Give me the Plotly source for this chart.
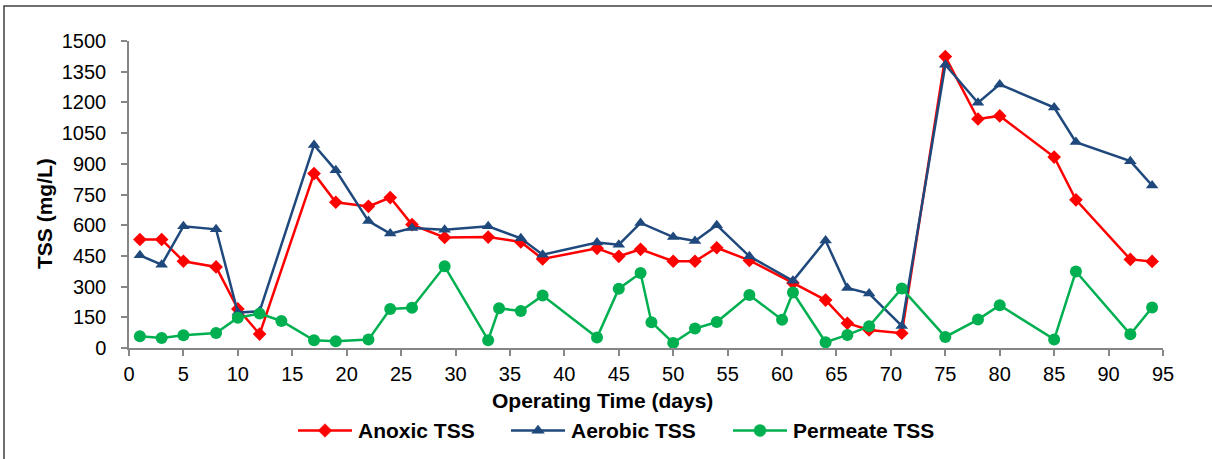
import plotly.graph_objects as go

# Sampling days for the reactor TSS series
days_reactor = [1, 3, 5, 8, 10, 12, 17, 19, 22, 24, 26, 29, 33, 36, 38, 43, 45, 47,
                50, 52, 54, 57, 61, 64, 66, 68, 71, 75, 78, 80, 85, 87, 92, 94]
anoxic_tss = [530, 530, 424, 396, 191, 68, 852, 712, 692, 735, 603, 540, 542, 518,
              435, 487, 448, 482, 424, 424, 490, 428, 318, 234, 121, 88, 72, 1424,
              1119, 1134, 933, 724, 433, 423]
aerobic_tss = [453, 407, 595, 580, 173, 179, 992, 868, 620, 559, 586, 578, 595, 536,
               456, 515, 505, 611, 542, 523, 600, 448, 328, 525, 293, 266, 108, 1384,
               1198, 1288, 1175, 1006, 913, 794]

# Sampling days for the permeate series
days_permeate = [1, 3, 5, 8, 10, 12, 14, 17, 19, 22, 24, 26, 29, 33, 34, 36, 38, 43,
                 45, 47, 48, 50, 52, 54, 57, 60, 61, 64, 66, 68, 71, 75, 78, 80, 85,
                 87, 92, 94]
permeate_tss = [57, 49, 62, 73, 148, 168, 132, 38, 33, 41, 191, 197, 399, 38, 194,
                181, 256, 51, 290, 366, 126, 25, 95, 127, 259, 138, 271, 28, 64, 106,
                291, 54, 139, 209, 42, 374, 67, 198]

x_ticks = list(range(0, 96, 5))
y_ticks = list(range(0, 1501, 150))

series_names = ["Anoxic TSS", "Aerobic TSS", "Permeate TSS"]
series_colors = ["#FF0000", "#1F497D", "#00B050"]
series_symbols = ["diamond", "triangle-up", "circle"]
series_sizes = [10.5, 11, 12]

FONT = "Liberation Sans, Arial, sans-serif"
AXIS_GREY = "#868686"

W, H = 1212, 459
L, R, T, B = 129, 49, 41, 111
pw, ph = W - L - R, H - T - B


def px_x(px):
    """Pixel column -> paper x."""
    return (px - L) / pw


def px_y(py):
    """Pixel row -> paper y."""
    return (H - B - py) / ph


def legend_glyph(symbol, size, color, ax, ay):
    """Pixel-sized shape reproducing a Plotly marker symbol at a paper anchor."""
    r = size / 2
    base = dict(xref="paper", yref="paper", xsizemode="pixel", ysizemode="pixel",
                xanchor=ax, yanchor=ay, fillcolor=color, line=dict(color=color, width=0.5))
    if symbol == "circle":
        return dict(type="circle", x0=-r, x1=r, y0=-r, y1=r, **base)
    if symbol == "diamond":
        d = r * 1.3
        path = f"M{d},0 L0,{d} L{-d},0 L0,{-d} Z"
    else:  # triangle-up (y measured upward from the anchor)
        rt = r * 2 / 3 ** 0.5
        path = f"M{-rt},{-r / 2} L{rt},{-r / 2} L0,{r} Z"
    return dict(type="path", path=path, **base)


fig = go.Figure()
series_data = [(days_reactor, anoxic_tss), (days_reactor, aerobic_tss),
               (days_permeate, permeate_tss)]
for (xs, ys), name, col, sym, sz in zip(series_data, series_names, series_colors,
                                        series_symbols, series_sizes):
    fig.add_trace(go.Scatter(
        x=xs, y=ys, name=name, mode="lines+markers", showlegend=False,
        line=dict(color=col, width=2.5),
        marker=dict(symbol=sym, size=sz, color=col),
    ))

# Legend row drawn below the axis title: line sample, marker and bold label
legend_line_start = [298, 511, 733]
legend_row_y = 430.5
legend_line_len = 54
shapes = []
annotations = []
for name, col, sym, sz, x0 in zip(series_names, series_colors, series_symbols,
                                  series_sizes, legend_line_start):
    shapes.append(dict(type="line", xref="paper", yref="paper",
                       x0=px_x(x0), x1=px_x(x0 + legend_line_len),
                       y0=px_y(legend_row_y), y1=px_y(legend_row_y),
                       line=dict(color=col, width=2.5)))
    shapes.append(legend_glyph(sym, sz, col, px_x(x0 + legend_line_len / 2),
                               px_y(legend_row_y)))
    annotations.append(dict(
        text=f"<b>{name}</b>", xref="paper", yref="paper",
        x=px_x(x0 + legend_line_len + 4), y=px_y(legend_row_y),
        xanchor="left", yanchor="middle", showarrow=False,
        font=dict(family=FONT, size=21, color="#000000"),
    ))

# Axis titles
annotations.append(dict(
    text="<b>Operating Time (days)</b>", xref="paper", yref="paper",
    x=px_x(602), y=px_y(400), xanchor="center", yanchor="middle", showarrow=False,
    font=dict(family=FONT, size=21, color="#000000"),
))
annotations.append(dict(
    text="<b>TSS (mg/L)</b>", xref="paper", yref="paper", textangle=-90,
    x=px_x(44), y=px_y(214), xanchor="center", yanchor="middle", showarrow=False,
    font=dict(family=FONT, size=21, color="#000000"),
))

# Outer chart frame (top and left edges visible)
shapes.append(dict(type="rect", xref="paper", yref="paper",
                   x0=px_x(4), x1=px_x(W + 5), y0=px_y(H + 5), y1=px_y(6),
                   line=dict(color="#404040", width=1.5),
                   fillcolor="rgba(0,0,0,0)", layer="below"))

fig.update_layout(
    width=W, height=H,
    margin=dict(l=L, r=R, t=T, b=B),
    paper_bgcolor="white", plot_bgcolor="white",
    font=dict(family=FONT, color="#000000"),
    showlegend=False,
    xaxis=dict(
        range=[0, 95], tickvals=x_ticks, ticktext=[str(v) for v in x_ticks],
        showgrid=False, zeroline=False, showline=True, linecolor=AXIS_GREY, linewidth=1.5,
        ticks="outside", ticklen=6, tickcolor=AXIS_GREY, tickwidth=1.5,
        ticklabelstandoff=1,
        tickfont=dict(family=FONT, size=20, color="#000000"),
    ),
    yaxis=dict(
        range=[0, 1500], tickvals=y_ticks, ticktext=[str(v) for v in y_ticks],
        showgrid=False, zeroline=False, showline=True, linecolor=AXIS_GREY, linewidth=1.5,
        ticks="outside", ticklen=6, tickcolor=AXIS_GREY, tickwidth=1.5,
        ticklabelstandoff=11,
        tickfont=dict(family=FONT, size=20, color="#000000"),
    ),
    shapes=shapes,
    annotations=annotations,
)

fig.write_html("out.html")
